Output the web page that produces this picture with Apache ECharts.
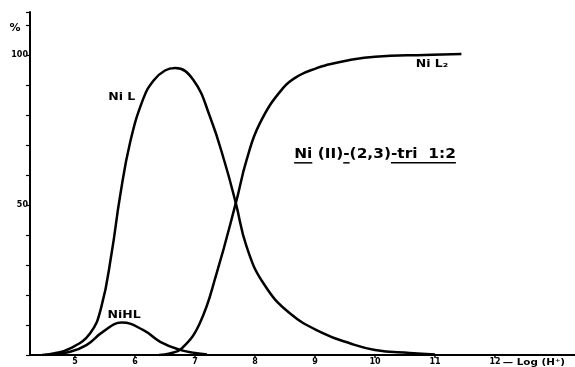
<!DOCTYPE html>
<html><head><meta charset="utf-8">
<script src="https://cdn.jsdelivr.net/npm/echarts@6/dist/echarts.min.js"></script>
<style>html,body{margin:0;padding:0;background:#fff}#c{width:575px;height:367px}</style>
</head><body><div id="c"></div>
<script>
// ---- data ----
const xTickValues = [5, 6, 7, 8, 9, 10, 11, 12];
const yTickLabelValues = [50, 100];

const nilX = [4.45, 4.64, 4.92, 5.25, 5.44, 5.61, 5.75, 5.92, 6.14, 6.31, 6.5, 6.67, 6.97, 7.25, 7.5, 7.68, 7.86, 8.14, 8.58, 9.14, 9.58, 10.0, 10.58, 11.0];
const nilY = [0, 0.5, 2.2, 7.2, 16.1, 33.9, 52.8, 71.0, 85.5, 91.5, 94.8, 95.6, 91.7, 79.4, 63.9, 50.6, 36.1, 23.9, 13.9, 7.2, 3.9, 1.7, 0.7, 0.2];

const nil2X = [6.4, 6.58, 6.78, 7.08, 7.36, 7.68, 7.86, 8.08, 8.47, 8.75, 9.03, 9.17, 9.58, 10.0, 10.83, 11.44];
const nil2Y = [0, 0.5, 2.2, 10.6, 27.2, 50.6, 65.0, 77.2, 89.0, 93.3, 95.6, 96.5, 98.3, 99.4, 100.0, 100.3];

const nihlX = [4.5, 4.92, 5.19, 5.47, 5.78, 6.14, 6.42, 6.75, 7.0, 7.2];
const nihlY = [0, 1.1, 3.3, 7.8, 10.8, 8.3, 4.4, 1.7, 0.7, 0.2];

const seriesNames = ['Ni L', 'NiHL', 'Ni L\u2082'];
const titleSegments = [
  {t: 'Ni', u: true}, {t: ' (II)', u: false}, {t: '-', u: true},
  {t: '(2,3)', u: false}, {t: '-tri  1:2', u: true}
];
const xNameText = '\u2014 Log (H\u207A)';

const pairs = (xs, ys) => xs.map((x, i) => [x, ys[i]]);

const chart = echarts.init(document.getElementById('c'), null, {renderer: 'canvas'});
const FONT = 'DejaVu Sans';
const lineStyle = {color: '#000', width: 2.5};

chart.setOption({
  animation: false,
  backgroundColor: '#fff',
  grid: {left: 30, right: 0, top: 12, bottom: 12, containLabel: false, outerBoundsMode: 'none'},
  xAxis: {
    type: 'value', min: 4.25, max: 13.333,
    axisLine: {lineStyle: {color: '#000', width: 2}},
    axisTick: {show: true, customValues: xTickValues, length: 3, lineStyle: {color: '#000', width: 1.5}},
    axisLabel: {customValues: xTickValues, margin: 3, color: '#000', fontFamily: FONT, fontWeight: 'bold', fontSize: 8},
    splitLine: {show: false}
  },
  yAxis: {
    type: 'value', min: 0, max: 114.3, interval: 10,
    axisLine: {show: true, lineStyle: {color: '#000', width: 2}},
    axisTick: {show: true, length: 4, lineStyle: {color: '#000', width: 1.2}},
    axisLabel: {customValues: yTickLabelValues, margin: 2, color: '#000', fontFamily: FONT, fontWeight: 'bold', fontSize: 8},
    splitLine: {show: false}
  },
  series: [
    {name: seriesNames[0], type: 'line', data: pairs(nilX, nilY), showSymbol: false, smooth: 0.45, lineStyle},
    {name: seriesNames[1], type: 'line', data: pairs(nihlX, nihlY), showSymbol: false, smooth: 0.45, lineStyle},
    {name: seriesNames[2], type: 'line', data: pairs(nil2X, nil2Y), showSymbol: false, smooth: 0.45, lineStyle}
  ]
});

// ---- annotations anchored in data coordinates ----
const ctx = document.createElement('canvas').getContext('2d');
function measure(txt, size) { ctx.font = 'bold ' + size + 'px "' + FONT + '"'; return ctx.measureText(txt).width; }

const graphics = [];
const lblStyle = {fill: '#000', font: 'bold 10px "' + FONT + '"', textAlign: 'center', textVerticalAlign: 'middle'};
const labelAnchors = [[5.78, 85.7], [5.82, 13.3], [10.95, 96.7]];
seriesNames.forEach((name, i) => {
  const p = chart.convertToPixel({gridIndex: 0}, labelAnchors[i]);
  graphics.push({type: 'text', x: p[0], y: p[1], scaleX: 1.25, style: Object.assign({text: name}, lblStyle)});
});

// axis name after the "12" tick label
const np = chart.convertToPixel({gridIndex: 0}, [12.13, 0]);
graphics.push({type: 'text', x: np[0], y: np[1] + 8, scaleX: 1.15,
  style: {text: xNameText, fill: '#000', font: 'bold 9px "' + FONT + '"', textAlign: 'left', textVerticalAlign: 'middle'}});

// title with underlined parts
const tSize = 14, tScale = 1.1;
const tp = chart.convertToPixel({gridIndex: 0}, [10.0, 66.7]);
const widths = titleSegments.map(s => measure(s.t, tSize) * tScale);
const total = widths.reduce((a, b) => a + b, 0);
let cx = tp[0] - total / 2;
const children = [];
titleSegments.forEach((s, i) => {
  children.push({type: 'text', x: cx, y: tp[1], scaleX: tScale,
    style: {text: s.t, fill: '#000', font: 'bold ' + tSize + 'px "' + FONT + '"', textAlign: 'left', textVerticalAlign: 'middle'}});
  if (s.u) {
    const startOff = s.t.startsWith(' ') ? measure(' ', tSize) * tScale : 0;
    children.push({type: 'line', shape: {x1: cx + startOff, y1: tp[1] + 8, x2: cx + widths[i], y2: tp[1] + 8}, style: {stroke: '#000', lineWidth: 1.5}});
  }
  cx += widths[i];
});
graphics.push({type: 'group', children});

// percent sign
const pTop = chart.convertToPixel({gridIndex: 0}, [4.25, 109]);
graphics.push({type: 'text', x: pTop[0] - 15, y: pTop[1], style: {text: '%', fill: '#000', font: 'bold 11px "' + FONT + '"', textAlign: 'center', textVerticalAlign: 'middle'}});

chart.setOption({graphic: graphics});
</script>
</body></html>
